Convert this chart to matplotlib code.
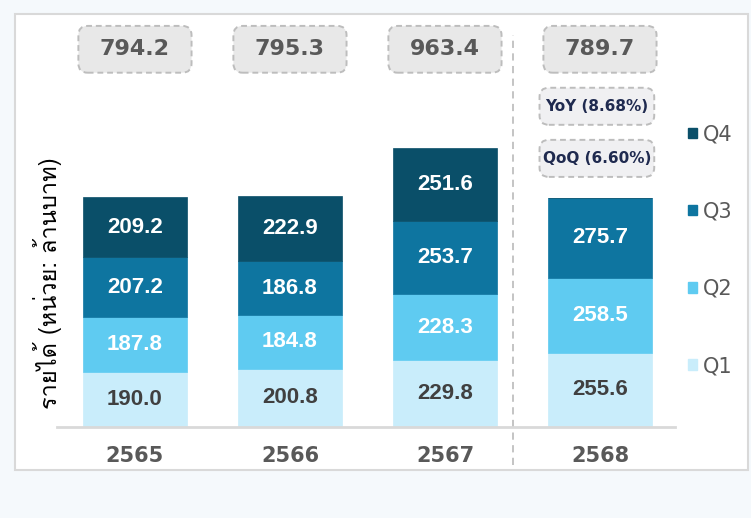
import matplotlib
matplotlib.use("Agg")
import matplotlib.pyplot as plt
import matplotlib.font_manager as fm
import matplotlib.transforms as mtransforms
from matplotlib import ft2font
from matplotlib.patches import FancyBboxPatch, Rectangle, Patch
import numpy as np

years = ["2565", "2566", "2567", "2568"]
quarters = ["Q1", "Q2", "Q3", "Q4"]
q1 = [190.0, 200.8, 229.8, 255.6]
q2 = [187.8, 184.8, 228.3, 258.5]
q3 = [207.2, 186.8, 253.7, 275.7]
q4 = [209.2, 222.9, 251.6, 0.0]
totals = ["794.2", "795.3", "963.4", "789.7"]
yoy_label = "YoY (8.68%)"
qoq_label = "QoQ (6.60%)"
y_label = "รายได้ (หน่วย: ล้านบาท)"

COLORS = {
    "q1": "#C9EDFB",
    "q2": "#5FCBF1",
    "q3": "#0E75A0",
    "q4": "#0A4F69",
    "grey_text": "#595959",
    "dark_text": "#404040",
    "navy": "#1F2A4F",
    "box_fill": "#E8E8E8",
    "box_fill2": "#F0F0F2",
    "box_edge": "#BDBDBD",
    "bg": "#F5F9FC",
}

W, H = 751, 518


def find_thai_font():
    # pick the first installed family that has Thai glyphs
    for f in fm.fontManager.ttflist:
        try:
            if 0x0E23 in ft2font.FT2Font(f.fname).get_charmap():
                return f.name
        except Exception:
            pass
    return None


def px_y(y):
    return 1 - y / H


def px_x(x):
    return x / W


fig = plt.figure(figsize=(W / 100, H / 100), dpi=100)
fig.patch.set_facecolor(COLORS["bg"])

# white panel behind everything
fig.patches.append(Rectangle((px_x(15), px_y(470)), px_x(733), 456 / H,
                             transform=fig.transFigure, facecolor="white",
                             edgecolor="#D9D9D9", linewidth=1.5, zorder=-10))

ax = fig.add_axes([px_x(57), px_y(427), px_x(618), 407 / H])
ax.set_facecolor("none")

x = np.arange(len(years))
width = 0.675
series = [q1, q2, q3, q4]
bottom = np.zeros(len(years))
handles = []
for qi, vals in enumerate(series):
    vals = np.array(vals)
    c = COLORS[f"q{qi + 1}"]
    bars = ax.bar(x, vals, width, bottom=bottom, color=c, edgecolor=c, linewidth=0.5, zorder=2)
    handles.append(Patch(facecolor=c, edgecolor=c, label=quarters[qi]))
    tc = COLORS["dark_text"] if qi == 0 else "white"
    for xi, v, b in zip(x, vals, bottom):
        if v <= 0:
            continue
        ax.text(xi, b + v / 2, f"{v:.1f}", ha="center", va="center", color=tc,
                fontsize=16, fontweight="bold", family="Liberation Sans", zorder=3)
    bottom += vals

ax.set_xlim(-0.503, 3.484)
ax.set_ylim(0, 407 / 0.29)
ax.set_yticks([])
ax.set_xticks(x)
ax.set_xticklabels(years, fontsize=15, fontweight="bold", color=COLORS["grey_text"])
ax.tick_params(axis="x", length=0, pad=14)
for s in ["top", "right", "left"]:
    ax.spines[s].set_visible(False)
ax.spines["bottom"].set_color("#D9D9D9")
ax.spines["bottom"].set_linewidth(2)

# separator before the current year
ax.axvline(2.44, ymin=-0.093, ymax=0.963, color="#BFBFBF", linestyle=(0, (4, 3)),
           linewidth=1.3, clip_on=False, zorder=1)

# total and growth boxes
trans = mtransforms.blended_transform_factory(ax.transData, ax.transAxes)
aspect = 155 / 407


def label_box(xc, yc, hw, hh, text, fc, tc, fs, fam):
    box = FancyBboxPatch((xc - hw, yc - hh), 2 * hw, 2 * hh,
                         boxstyle="round,pad=0,rounding_size=0.06", mutation_aspect=aspect,
                         transform=trans, facecolor=fc, edgecolor=COLORS["box_edge"],
                         linewidth=1.4, linestyle=(0, (3, 2)), clip_on=False, zorder=2)
    ax.add_patch(box)
    ax.text(xc, yc, text, transform=trans, ha="center", va="center", color=tc,
            fontsize=fs, fontweight="bold", family=fam, clip_on=False, zorder=3)


for xi, t in zip(x, totals):
    label_box(xi, 0.928, 0.365, 0.0575, t, COLORS["box_fill"], COLORS["grey_text"], 16, "DejaVu Sans")

label_box(x[-1] - 0.02, 0.788, 0.37, 0.0455, yoy_label, COLORS["box_fill2"], COLORS["navy"], 11, "DejaVu Sans")
label_box(x[-1] - 0.02, 0.660, 0.37, 0.0455, qoq_label, COLORS["box_fill2"], COLORS["navy"], 11, "DejaVu Sans")

# legend, Q4 on top
leg = fig.legend(handles=handles[::-1], loc="upper left", bbox_to_anchor=(px_x(680), px_y(116)),
                 frameon=False, fontsize=15, handlelength=0.4, handleheight=0.4,
                 handletextpad=0.3, labelspacing=2.75, borderaxespad=0)
for t in leg.get_texts():
    t.set_color(COLORS["grey_text"])

thai = find_thai_font()
fam = [thai, "DejaVu Sans"] if thai else ["DejaVu Sans"]
fig.text(px_x(48), px_y(283), y_label, rotation=90, ha="center", va="center",
         fontsize=17, color="black", family=fam)

fig.savefig("out.png", dpi=100, facecolor=fig.get_facecolor())
